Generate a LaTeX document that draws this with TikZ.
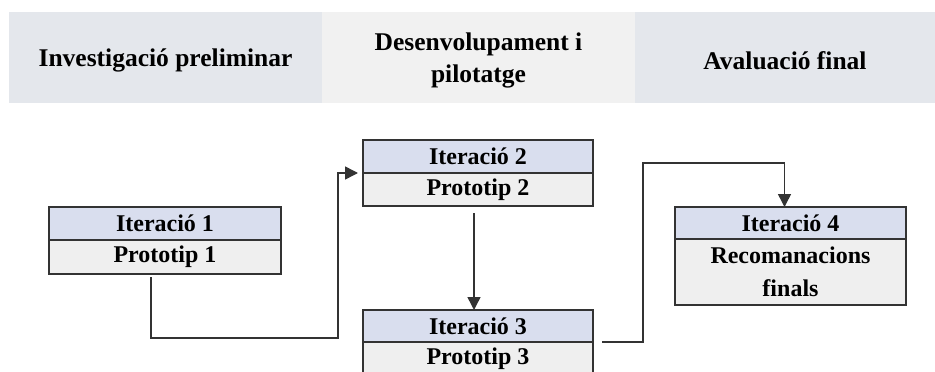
\documentclass[tikz,border=0pt]{standalone}
\usepackage{fontspec}
\setmainfont{Liberation Serif}
\usetikzlibrary{arrows.meta,calc}
\definecolor{bandA}{HTML}{E4E7EC}
\definecolor{bandB}{HTML}{F1F1F1}
\definecolor{hdr}{HTML}{D9DEEE}
\definecolor{bdy}{HTML}{EFEFEF}
\definecolor{ln}{HTML}{333333}
\begin{document}
\begin{tikzpicture}[x=1pt,y=-1pt,
  band/.style={inner sep=0pt, outer sep=0pt, anchor=north west, minimum height=91pt},
  bandtext/.style={inner sep=0pt, yshift=-3pt,
    font=\bfseries\fontsize{25.5}{32}\selectfont, align=center, text=black},
  boxpart/.style={draw=ln, line width=1.5pt, inner sep=0pt, outer sep=0pt, anchor=north west,
    font=\bfseries\fontsize{24}{33}\selectfont, align=center, text=black},
  hpart/.style={boxpart, fill=hdr},
  bpart/.style={boxpart, fill=bdy},
  conn/.style={draw=ln, line width=1.5pt},
  arr/.style={conn, -{Triangle[length=13pt,width=13pt]}}
]
\useasboundingbox (0,0) rectangle (935,372);
% header band
\node[band, fill=bandA, minimum width=313pt] (s1) at (9,12) {};
\node[band, fill=bandB, minimum width=313pt] (s2) at (322,12) {};
\node[band, fill=bandA, minimum width=300pt] (s3) at (635,12) {};
\node[bandtext] (t1) at (s1.center) {Investigació preliminar};
\node[bandtext] (t2) at (s2.center) {Desenvolupament i\\pilotatge};
\node[bandtext] (t3) at (s3.center) {Avaluació final};
% boxes
\node[hpart, minimum width=232pt, minimum height=33pt] (i1) at (49,207) {Iteració 1};
\node[bpart, minimum width=232pt, minimum height=34pt] (p1) at (49,240) {Prototip 1};
\node[hpart, minimum width=230pt, minimum height=33pt] (i2) at (363,140) {Iteració 2};
\node[bpart, minimum width=230pt, minimum height=33pt] (p2) at (363,173) {Prototip 2};
\node[hpart, minimum width=230pt, minimum height=32pt] (i3) at (363,310) {Iteració 3};
\node[bpart, minimum width=230pt, minimum height=33pt] (p3) at (363,342) {Prototip 3};
\node[hpart, minimum width=231pt, minimum height=32pt] (i4) at (675,207) {Iteració 4};
\node[bpart, minimum width=231pt, minimum height=66pt] (p4) at (675,239) {Recomanacions\\finals};
% connectors
\coordinate (c1) at (338,338);
\coordinate (c2) at (643,163);
\draw[arr] ($(p1.south)+(-14,3)$) |- (c1) |- ($(i2.south west)+(-5,0)$);
\draw[arr] ($(p2.south)+(-4,7)$) -- ($(i3.north)+(-4,0)$);
\draw[arr] ($(p3.north east)+(9,0)$) -| (c2) -| ($(i4.north)+(-6,0)$);
\end{tikzpicture}
\end{document}
